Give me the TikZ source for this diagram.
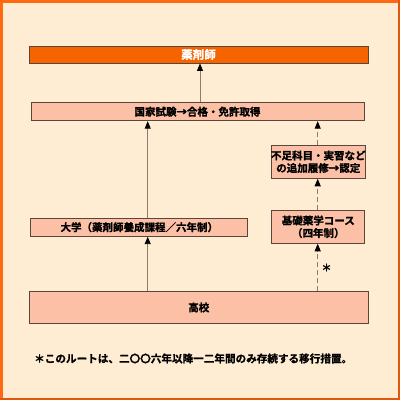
\documentclass[tikz,border=0pt]{standalone}
\usepackage{fontspec}
\setmainfont{Noto Sans CJK JP}
\newfontfamily\jpbold{Noto Sans CJK JP Bold}[FakeBold=1.2]
\usetikzlibrary{arrows.meta}
\definecolor{bgc}{HTML}{FFEDD3}
\definecolor{frameo}{HTML}{FF6A10}
\definecolor{framed}{HTML}{E0580C}
\definecolor{topo}{HTML}{F66400}
\definecolor{pinkc}{HTML}{FBC0A6}
\definecolor{edgec}{HTML}{5A463A}
\definecolor{linec}{HTML}{8C7C6C}
\tikzset{
  box/.style={draw=edgec, line width=0.9pt, fill=pinkc, rectangle, inner sep=0pt,
    font=\fontsize{10.5}{12.5}\selectfont\jpbold, align=center, text=black},
  topbox/.style={box, fill=topo, text=white, font=\fontsize{11.5}{13}\selectfont\jpbold},
  conn/.style={draw=linec, line width=0.9pt, -{Triangle[width=6pt,length=7.5pt,color=black]}},
  dconn/.style={conn, dash pattern=on 5pt off 3pt},
}
\begin{document}
\begin{tikzpicture}[x=1pt,y=-1pt]
\useasboundingbox (0,0) rectangle (400,400);
\fill[bgc] (0,0) rectangle (400,400);
\draw[frameo, line width=2.5pt] (1.25,1.25) rectangle (398.75,398.75);
\draw[framed, line width=2.5pt] (398.75,0) -- (398.75,398.75) -- (0,398.75);
\node[topbox, minimum width=339pt, minimum height=17pt] (top) at (198.5,54.5) {薬剤師};
\node[box, minimum width=333pt, minimum height=18pt] (nat) at (197.5,111.7) {国家試験→合格・免許取得};
\node[box, minimum width=93pt, minimum height=33pt] (fus) at (318.3,161.8) {不足科目・実習など\\の追加履修→認定};
\node[box, minimum width=93pt, minimum height=33pt] (kiso) at (318.3,226.8) {基礎薬学コース\\（四年制）};
\node[box, minimum width=217pt, minimum height=18pt] (univ) at (139.3,227.2) {大学（薬剤師養成課程／六年制）};
\node[box, minimum width=339pt, minimum height=31.6pt] (hs) at (198.8,307.5) {高校};
\coordinate (lx) at (147.7,0);
\coordinate (rx) at (317.7,0);
\coordinate (cx) at (200,0);
\draw[conn] (hs.north -| lx) -- (univ.south -| lx);
\draw[conn] (univ.north -| lx) -- (nat.south -| lx);
\draw[conn] (nat.north -| cx) -- (top.south -| cx);
\draw[dconn] (hs.north -| rx) -- (kiso.south -| rx);
\draw[dconn] (kiso.north -| rx) -- (fus.south -| rx);
\draw[dconn] (fus.north -| rx) -- (nat.south -| rx);
\node[font=\fontsize{10}{12}\selectfont\jpbold] (ast) at (326.5,267.5) {＊};
\node[font=\fontsize{10.6}{13}\selectfont\jpbold, anchor=west, inner sep=0pt] (note) at (34,358.5) {＊このルートは、二〇〇六年以降一二年間のみ存続する移行措置。};
\end{tikzpicture}
\end{document}
